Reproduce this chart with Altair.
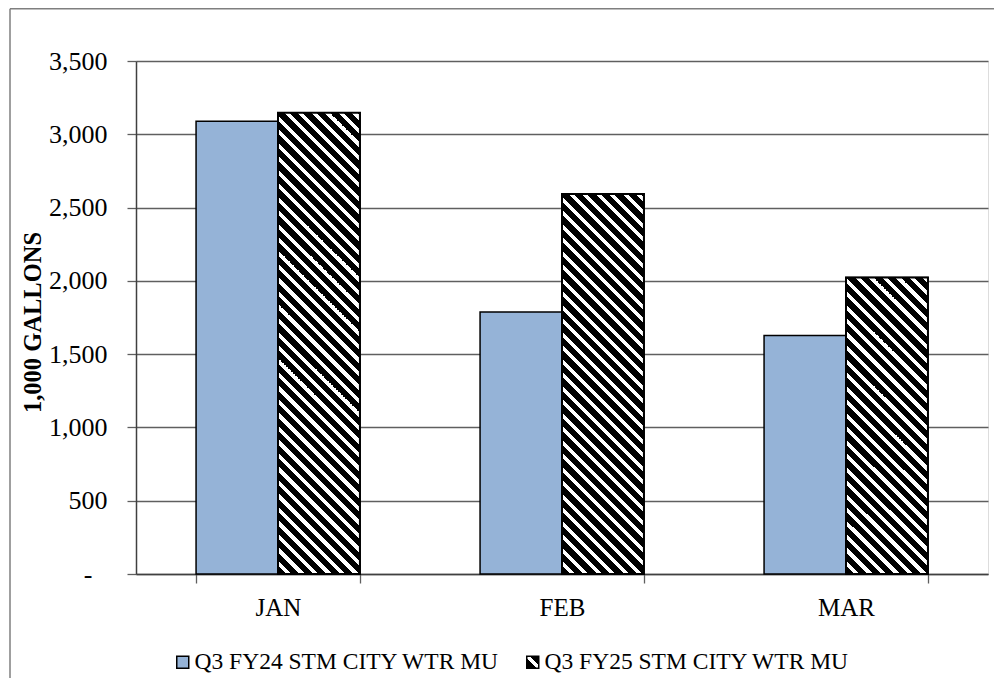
import json
import altair as alt
import pandas as pd

# ---- data ----
months = ["JAN", "FEB", "MAR"]
series_names = ["Q3 FY24 STM CITY WTR MU", "Q3 FY25 STM CITY WTR MU"]
fy24 = [3089, 1788, 1627]
fy25 = [3147, 2593, 2023]
y_ticks = [0, 500, 1000, 1500, 2000, 2500, 3000, 3500]

BLUE = "#95B3D7"
GRID = "#5f5f5f"
FONT = "Liberation Serif"

PLOT_W = 852
PLOT_H = 513
Y_MAX = 3500
PAD_INNER = 0.423
PAD_OUTER = PAD_INNER / 2
BAR_W = PLOT_W / len(months) * (1 - PAD_INNER) / len(series_names)

rows = []
for m, a, b in zip(months, fy24, fy25):
    rows.append({"month": m, "series": series_names[0], "value": a})
    rows.append({"month": m, "series": series_names[1], "value": b})
df = pd.DataFrame(rows)


def hatch_gradient(value, period=13.5, white=0.38):
    """Diagonal stripes as a hard-stop linear gradient in bbox units."""
    h = value / Y_MAX * PLOT_H
    w = BAR_W
    L = w + h
    a = L / (w * w + h * h)
    stops = [alt.GradientStop(color="black", offset=0)]
    k = 0
    while True:
        b_end = (k * period + (1 - white) * period) / L
        w_end = ((k + 1) * period) / L
        if b_end >= 1:
            break
        stops.append(alt.GradientStop(color="black", offset=b_end))
        stops.append(alt.GradientStop(color="white", offset=b_end))
        if w_end >= 1:
            stops.append(alt.GradientStop(color="white", offset=1))
            break
        stops.append(alt.GradientStop(color="white", offset=w_end))
        stops.append(alt.GradientStop(color="black", offset=w_end))
        k += 1
    return alt.LinearGradient(gradient="linear", stops=stops,
                              x1=0, y1=1, x2=a * w, y2=1 - a * h)


# small hatched swatch for the legend (one white diagonal on black)
legend_grad_obj = {
    "gradient": "linear", "x1": 0, "y1": 1, "x2": 1, "y2": 0,
    "stops": [{"offset": 0, "color": "black"}, {"offset": 0.40, "color": "black"},
              {"offset": 0.40, "color": "white"}, {"offset": 0.60, "color": "white"},
              {"offset": 0.60, "color": "black"}, {"offset": 1, "color": "black"}]}
legend_grad_expr = json.dumps(legend_grad_obj).replace('"', "'")

x_enc = alt.X("month:N", sort=months, title=None,
              scale=alt.Scale(paddingInner=PAD_INNER, paddingOuter=PAD_OUTER),
              axis=alt.Axis(tickBand="extent", labelAngle=0, labelFontSize=25,
                            labelPadding=12, tickSize=9, tickColor=GRID,
                            tickWidth=1.3, domainColor="#404040",
                            domainWidth=1.5, grid=False, labelColor="black",
                            labelFont=FONT))
xo_enc = alt.XOffset("series:N", sort=series_names,
                     scale=alt.Scale(paddingInner=0, paddingOuter=0))
y_enc = alt.Y("value:Q", title="1,000 GALLONS",
              scale=alt.Scale(domain=[0, Y_MAX], nice=False),
              axis=alt.Axis(values=y_ticks,
                            labelExpr="datum.value == 0 ? '-' : format(datum.value, ',')",
                            labelFontSize=26,
                            labelPadding={"condition": {"test": "datum.value == 0", "value": 35},
                                          "value": 20},
                            labelColor="black",
                            labelFont=FONT, tickSize=9, tickColor=GRID,
                            tickWidth=1.3, domainColor="#404040",
                            domainWidth=1.5, gridColor=GRID, gridWidth=1.3,
                            titleFont=FONT, titleFontSize=24.5,
                            titleFontWeight="bold", titleColor="black",
                            titleX=-91, titleY=261))

legend = alt.Legend(
    orient="none", legendX=35, legendY=589, direction="horizontal",
    title=None, symbolType="square", symbolSize=144,
    symbolStrokeColor="black", symbolStrokeWidth=1.5, symbolOpacity=1,
    labelFont=FONT, labelFontSize=23.5, labelColor="black", labelOffset=0,
    labelLimit=600, columnPadding=21, padding=0)

base_bars = alt.Chart(df).mark_bar(stroke="black", strokeWidth=1.5, opacity=1).encode(
    x=x_enc, xOffset=xo_enc, y=y_enc,
    color=alt.Color("series:N", sort=series_names,
                    scale=alt.Scale(domain=series_names,
                                    range=[BLUE, alt.ExprRef(expr=legend_grad_expr)]),
                    legend=legend))

hatch_layers = []
for m, v in zip(months, fy25):
    hatch_layers.append(
        alt.Chart(df)
        .transform_filter(f"datum.month == '{m}' && datum.series == '{series_names[1]}'")
        .mark_bar(fill=hatch_gradient(v), stroke="black", strokeWidth=2)
        .encode(x=x_enc, xOffset=xo_enc, y=y_enc))

# outer chart frame (only the top and left edges fall inside the window)
frame_data = alt.Data(values=[{}])
frame_top = alt.Chart(frame_data).mark_rule(stroke="#7f7f7f", strokeWidth=1.5).encode(
    x=alt.value(-126), x2=alt.value(900), y=alt.value(-52.2))
frame_left = alt.Chart(frame_data).mark_rule(stroke="#7f7f7f", strokeWidth=1.5).encode(
    x=alt.value(-126), y=alt.value(-52.2), y2=alt.value(700))

chart = alt.layer(frame_top, frame_left, base_bars, *hatch_layers).properties(
    width=PLOT_W, height=PLOT_H, autosize="none",
    padding={"left": 128, "top": 53, "right": 6, "bottom": 104},
).configure_view(stroke="#7f7f7f", strokeWidth=1.3).configure(
    font=FONT, background="white")

chart.save("out.html", embed_options={"renderer": "svg", "actions": False})
